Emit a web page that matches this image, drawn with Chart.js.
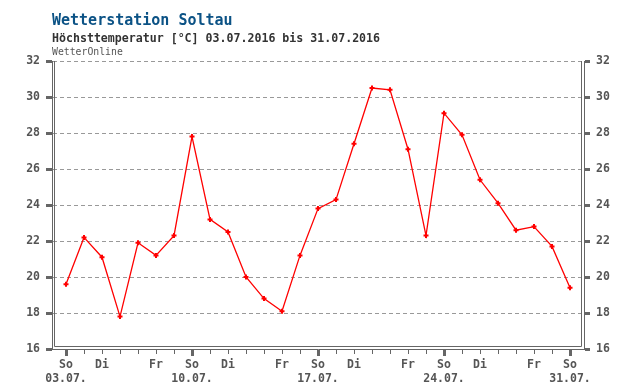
<!DOCTYPE html>
<html>
<head>
<meta charset="utf-8">
<script src="https://cdn.jsdelivr.net/npm/chart.js@4.4.1/dist/chart.umd.min.js"></script>
<style>
  html, body { margin: 0; padding: 0; background: #fff; }
  #wrap { width: 640px; height: 390px; }
</style>
</head>
<body>
<div id="wrap"><canvas id="chart" width="640" height="390"></canvas></div>
<script>
const titleText = "Wetterstation Soltau";
const subtitleText = "Höchsttemperatur [°C] 03.07.2016 bis 31.07.2016";
const sourceText = "WetterOnline";

// Juli 2016, Tag des Monats
const days = [3, 4, 5, 6, 7, 8, 9, 10, 11, 12, 13, 14, 15, 16, 17, 18, 19, 20, 21, 22, 23, 24, 25, 26, 27, 28, 29, 30, 31];
const tMax = [19.6, 22.2, 21.1, 17.8, 21.9, 21.2, 22.3, 27.8, 23.2, 22.5, 20.0, 18.8, 18.1, 21.2, 23.8, 24.3, 27.4, 30.5, 30.4, 27.1, 22.3, 29.1, 27.9, 25.4, 24.1, 22.6, 22.8, 21.7, 19.4];
const weekdayLabels = ["So", "", "Di", "", "", "Fr", "", "So", "", "Di", "", "", "Fr", "", "So", "", "Di", "", "", "Fr", "", "So", "", "Di", "", "", "Fr", "", "So"];
const dateLabels = ["03.07.", "", "", "", "", "", "", "10.07.", "", "", "", "", "", "", "17.07.", "", "", "", "", "", "", "24.07.", "", "", "", "", "", "", "31.07."];
const yTicks = [16, 18, 20, 22, 24, 26, 28, 30, 32];

const FONT = '"DejaVu Sans Mono", "Liberation Mono", monospace';
const AXIS_COLOR = "#666";

const isSunday = (v) => dateLabels[days.indexOf(v)] !== "";

const headerPlugin = {
  id: "header",
  afterDraw(chart) {
    const ctx = chart.ctx;
    ctx.save();
    ctx.textAlign = "left";
    ctx.textBaseline = "alphabetic";
    ctx.fillStyle = "#0b5285";
    ctx.font = "bold 15px " + FONT;
    ctx.fillText(titleText, 52, 25);
    ctx.fillStyle = "#333";
    ctx.font = "bold 11.6px " + FONT;
    ctx.fillText(subtitleText, 52, 42);
    ctx.fillStyle = "#555";
    ctx.font = "9.8px " + FONT;
    ctx.fillText(sourceText, 52, 55);
    ctx.restore();
  }
};

// second frame line just inside the axes
const framePlugin = {
  id: "frame",
  beforeDatasetsDraw(chart) {
    const { ctx, chartArea: a } = chart;
    ctx.save();
    ctx.strokeStyle = AXIS_COLOR;
    ctx.lineWidth = 1;
    ctx.beginPath();
    ctx.moveTo(a.left + 2.5, a.top);
    ctx.lineTo(a.left + 2.5, a.bottom - 2.5);
    ctx.lineTo(a.right - 2.5, a.bottom - 2.5);
    ctx.lineTo(a.right - 2.5, a.top);
    ctx.stroke();
    ctx.restore();
  }
};

const tickFont = { family: FONT, size: 11.5, weight: "bold", lineHeight: "14px" };

const yAxis = (position, width) => ({
  type: "linear",
  position: position,
  min: 16,
  max: 32,
  afterBuildTicks: (axis) => { axis.ticks = yTicks.map((v) => ({ value: v })); },
  afterFit: (axis) => { axis.width = width; },
  border: { display: true, color: AXIS_COLOR, width: 1, dash: [4, 3] },
  grid: {
    drawOnChartArea: position === "left",
    color: (ctx) => (ctx.tick && ctx.tick.value === 16 ? "rgba(0,0,0,0)" : "#999"),
    lineWidth: 1,
    drawTicks: true,
    tickLength: 6,
    tickWidth: 3,
    tickColor: AXIS_COLOR,
  },
  ticks: { color: "#555", font: tickFont, padding: 6, callback: (v) => String(v) },
});

new Chart(document.getElementById("chart"), {
  type: "line",
  data: {
    datasets: [{
      label: "Höchsttemperatur",
      data: days.map((d, i) => ({ x: d, y: tMax[i] })),
      borderColor: "#ff0000",
      backgroundColor: "#ff0000",
      borderWidth: 1.3,
      pointStyle: "cross",
      pointRadius: 2.5,
      pointBorderWidth: 2,
      pointBorderColor: "#ff0000",
      tension: 0,
    }],
  },
  options: {
    responsive: false,
    animation: false,
    devicePixelRatio: 1,
    layout: { padding: { top: 61, left: 0, right: 0, bottom: 0 } },
    plugins: { legend: { display: false }, tooltip: { enabled: false } },
    scales: {
      x: {
        type: "linear",
        position: "bottom",
        min: 3 - 14 / 18,
        max: 31 + 14 / 18,
        afterBuildTicks: (axis) => { axis.ticks = days.map((d) => ({ value: d })); },
        afterFit: (axis) => { axis.height = 41; },
        border: { display: true, color: AXIS_COLOR, width: 1 },
        grid: {
          drawOnChartArea: false,
          drawTicks: true,
          tickLength: 7,
          tickColor: AXIS_COLOR,
          tickWidth: (ctx) => (ctx.tick && isSunday(ctx.tick.value) ? 3 : 1),
          tickBorderDash: (ctx) => (ctx.tick && isSunday(ctx.tick.value) ? [] : [4, 40]),
        },
        ticks: {
          autoSkip: false,
          maxRotation: 0,
          color: "#555",
          font: tickFont,
          padding: 2,
          callback: (v) => {
            const i = days.indexOf(v);
            if (i < 0) return "";
            return dateLabels[i] ? [weekdayLabels[i], dateLabels[i]] : weekdayLabels[i];
          },
        },
      },
      y: yAxis("left", 52),
      y2: yAxis("right", 56),
    },
  },
  plugins: [framePlugin, headerPlugin],
});
</script>
</body>
</html>
